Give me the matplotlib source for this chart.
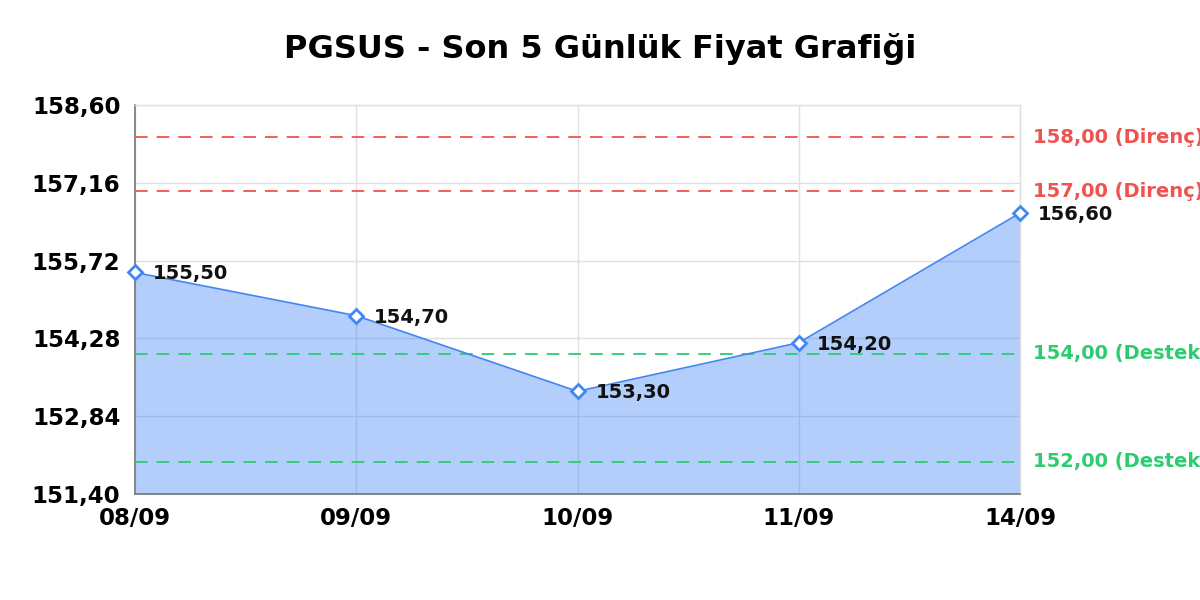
import matplotlib
matplotlib.use("Agg")
import matplotlib.pyplot as plt
import matplotlib.transforms as mtransforms

dates = ["08/09", "09/09", "10/09", "11/09", "14/09"]
prices = [155.50, 154.70, 153.30, 154.20, 156.60]
y_ticks = [151.40, 152.84, 154.28, 155.72, 157.16, 158.60]
resistance = [158.00, 157.00]
support = [154.00, 152.00]
title = "PGSUS - Son 5 Günlük Fiyat Grafiği"

def tr(v):
    return f"{v:.2f}".replace(".", ",")

fig = plt.figure(figsize=(12, 6), dpi=100)
ax = fig.add_axes([0.1125, 0.1767, 0.7375, 0.6483])

x = list(range(len(dates)))
blue = "#4285f4"
ax.set_axisbelow(True)
ax.grid(True, color="#e0e0e0", linewidth=1)
ax.fill_between(x, prices, y_ticks[0], color=blue, alpha=0.4, linewidth=0, zorder=2)
ax.plot(x, prices, color=blue, linewidth=1.2, zorder=4)
ax.plot(x, prices, linestyle="none", marker="D", markersize=7.5,
        markerfacecolor="white", markeredgecolor=blue, markeredgewidth=2, zorder=5,
        clip_on=False)

for xi, p in zip(x, prices):
    ax.annotate(tr(p), (xi, p), xytext=(13, -1), textcoords="offset points",
                va="center", ha="left", fontsize=14, fontweight="bold",
                color="#111111", zorder=6, annotation_clip=False)

trans = mtransforms.blended_transform_factory(ax.transAxes, ax.transData)
red = "#ef5350"
green = "#2ecc71"
for r in resistance:
    ax.axhline(r, color=red, linestyle=(0, (7, 5)), linewidth=1.3, zorder=3)
    ax.text(1.015, r, f"{tr(r)} (Direnç)", transform=trans, color=red,
            fontsize=14, fontweight="bold", va="center", ha="left", clip_on=False)
for s in support:
    ax.axhline(s, color=green, linestyle=(0, (7, 5)), linewidth=1.3, zorder=3)
    ax.text(1.015, s, f"{tr(s)} (Destek)", transform=trans, color=green,
            fontsize=14, fontweight="bold", va="center", ha="left", clip_on=False)

ax.set_xlim(0, len(dates) - 1)
ax.set_ylim(y_ticks[0], y_ticks[-1])
ax.set_xticks(x)
ax.set_xticklabels(dates, fontsize=16.5, fontweight="bold")
ax.set_yticks(y_ticks)
ax.set_yticklabels([tr(v) for v in y_ticks], fontsize=16.5, fontweight="bold")
ax.tick_params(axis="both", length=0)
ax.tick_params(axis="y", pad=10.5)
ax.tick_params(axis="x", pad=9.5)

for side in ["left", "bottom"]:
    ax.spines[side].set_color("#777777")
    ax.spines[side].set_linewidth(1.2)
for side in ["top", "right"]:
    ax.spines[side].set_color("#e0e0e0")
    ax.spines[side].set_linewidth(1)

fig.text(0.5, 0.918, title, ha="center", va="center", fontsize=23, fontweight="bold")

fig.savefig("out.png", dpi=100)
